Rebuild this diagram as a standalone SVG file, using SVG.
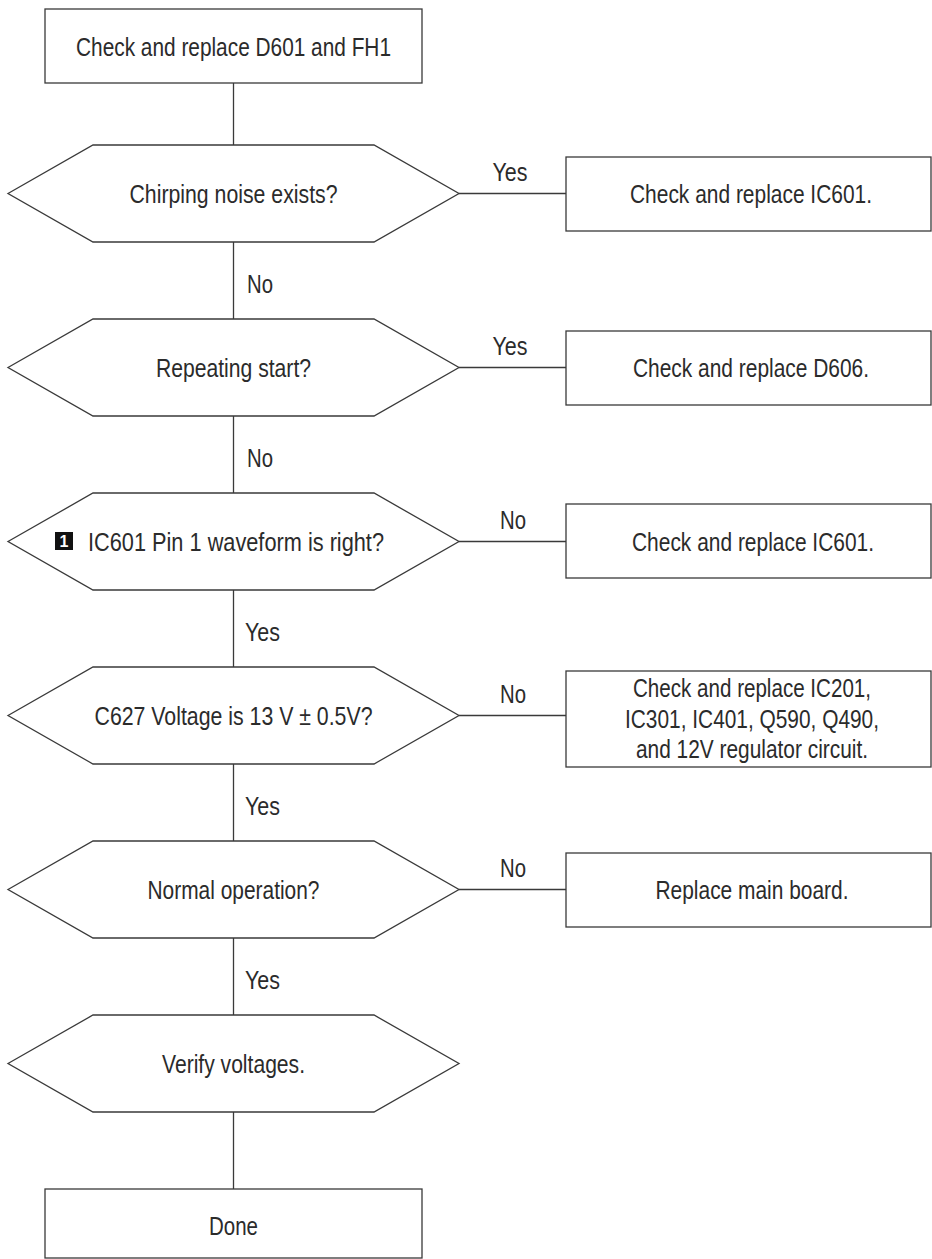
<svg xmlns="http://www.w3.org/2000/svg" width="932" height="1259" viewBox="0 0 932 1259">
<style>
.box{fill:#fff;stroke:#3a3a3a;stroke-width:1.3}
.dec{fill:#fff;stroke:#3a3a3a;stroke-width:1.3}
.ln{stroke:#3a3a3a;stroke-width:1.3;fill:none}
text{font-family:"Liberation Sans",Arial,sans-serif;font-size:26px;fill:#2b2b2b}
.c{text-anchor:middle}
.badge{fill:#111}
.bn{font-family:"Liberation Sans",Arial,sans-serif;font-weight:bold;font-size:16px;fill:#fff;text-anchor:middle}
</style>
<rect width="932" height="1259" fill="#fff"/>
<g id="connectors">
<line class="ln" x1="233.5" y1="83" x2="233.5" y2="145"/>
<line class="ln" x1="233.5" y1="242" x2="233.5" y2="319"/>
<line class="ln" x1="233.5" y1="416" x2="233.5" y2="493"/>
<line class="ln" x1="233.5" y1="590" x2="233.5" y2="667"/>
<line class="ln" x1="233.5" y1="764" x2="233.5" y2="841"/>
<line class="ln" x1="233.5" y1="938" x2="233.5" y2="1015"/>
<line class="ln" x1="233.5" y1="1112" x2="233.5" y2="1189"/>
<line class="ln" x1="459" y1="193.5" x2="566" y2="193.5"/>
<line class="ln" x1="459" y1="367.5" x2="566" y2="367.5"/>
<line class="ln" x1="459" y1="541.5" x2="566" y2="541.5"/>
<line class="ln" x1="459" y1="715.5" x2="566" y2="715.5"/>
<line class="ln" x1="459" y1="889.5" x2="566" y2="889.5"/>
<text x="510" y="180.5" class="c" textLength="35" lengthAdjust="spacingAndGlyphs">Yes</text>
<text x="510" y="354.5" class="c" textLength="35" lengthAdjust="spacingAndGlyphs">Yes</text>
<text x="513" y="528.5" class="c" textLength="26" lengthAdjust="spacingAndGlyphs">No</text>
<text x="513" y="702.5" class="c" textLength="26" lengthAdjust="spacingAndGlyphs">No</text>
<text x="513" y="876.5" class="c" textLength="26" lengthAdjust="spacingAndGlyphs">No</text>
<text x="247" y="293" textLength="26" lengthAdjust="spacingAndGlyphs">No</text>
<text x="247" y="467" textLength="26" lengthAdjust="spacingAndGlyphs">No</text>
<text x="245" y="641" textLength="35" lengthAdjust="spacingAndGlyphs">Yes</text>
<text x="245" y="815" textLength="35" lengthAdjust="spacingAndGlyphs">Yes</text>
<text x="245" y="989" textLength="35" lengthAdjust="spacingAndGlyphs">Yes</text>
</g>
<g id="start">
<rect class="box" x="45" y="9" width="377" height="74"/>
<text x="233.5" y="56" class="c" textLength="315" lengthAdjust="spacingAndGlyphs">Check and replace D601 and FH1</text>
</g>
<g id="d1">
<polygon class="dec" points="8,193.5 93,145 374,145 459,193.5 374,242 93,242"/>
<text x="233.5" y="203" class="c" textLength="208" lengthAdjust="spacingAndGlyphs">Chirping noise exists?</text>
</g>
<g id="r1">
<rect class="box" x="566" y="157" width="365" height="74"/>
<text x="751" y="203" class="c" textLength="242" lengthAdjust="spacingAndGlyphs">Check and replace IC601.</text>
</g>
<g id="d2">
<polygon class="dec" points="8,367.5 93,319 374,319 459,367.5 374,416 93,416"/>
<text x="233.5" y="377" class="c" textLength="155" lengthAdjust="spacingAndGlyphs">Repeating start?</text>
</g>
<g id="r2">
<rect class="box" x="566" y="331" width="365" height="74"/>
<text x="751" y="377" class="c" textLength="236" lengthAdjust="spacingAndGlyphs">Check and replace D606.</text>
</g>
<g id="d3">
<polygon class="dec" points="8,541.5 93,493 374,493 459,541.5 374,590 93,590"/>
<rect class="badge" x="55" y="532" width="18" height="18"/>
<text x="64" y="547" class="bn">1</text>
<text x="88" y="551" textLength="296" lengthAdjust="spacingAndGlyphs">IC601 Pin 1 waveform is right?</text>
</g>
<g id="r3">
<rect class="box" x="566" y="504" width="365" height="74"/>
<text x="753" y="551" class="c" textLength="242" lengthAdjust="spacingAndGlyphs">Check and replace IC601.</text>
</g>
<g id="d4">
<polygon class="dec" points="8,715.5 93,667 374,667 459,715.5 374,764 93,764"/>
<text x="233.5" y="725" class="c" textLength="278" lengthAdjust="spacingAndGlyphs">C627 Voltage is 13 V ± 0.5V?</text>
</g>
<g id="r4">
<rect class="box" x="566" y="671" width="365" height="96"/>
<text x="752" y="697" class="c" textLength="238" lengthAdjust="spacingAndGlyphs">Check and replace IC201,</text>
<text x="752" y="727.5" class="c" textLength="254" lengthAdjust="spacingAndGlyphs">IC301, IC401, Q590, Q490,</text>
<text x="752" y="758" class="c" textLength="232" lengthAdjust="spacingAndGlyphs">and 12V regulator circuit.</text>
</g>
<g id="d5">
<polygon class="dec" points="8,889.5 93,841 374,841 459,889.5 374,938 93,938"/>
<text x="233.5" y="899" class="c" textLength="172" lengthAdjust="spacingAndGlyphs">Normal operation?</text>
</g>
<g id="r5">
<rect class="box" x="566" y="853" width="365" height="74"/>
<text x="752" y="899" class="c" textLength="193" lengthAdjust="spacingAndGlyphs">Replace main board.</text>
</g>
<g id="d6">
<polygon class="dec" points="8,1063.5 93,1015 374,1015 459,1063.5 374,1112 93,1112"/>
<text x="233.5" y="1073" class="c" textLength="143" lengthAdjust="spacingAndGlyphs">Verify voltages.</text>
</g>
<g id="done">
<rect class="box" x="45" y="1189" width="377" height="69"/>
<text x="233.5" y="1235" class="c" textLength="49" lengthAdjust="spacingAndGlyphs">Done</text>
</g>
</svg>
